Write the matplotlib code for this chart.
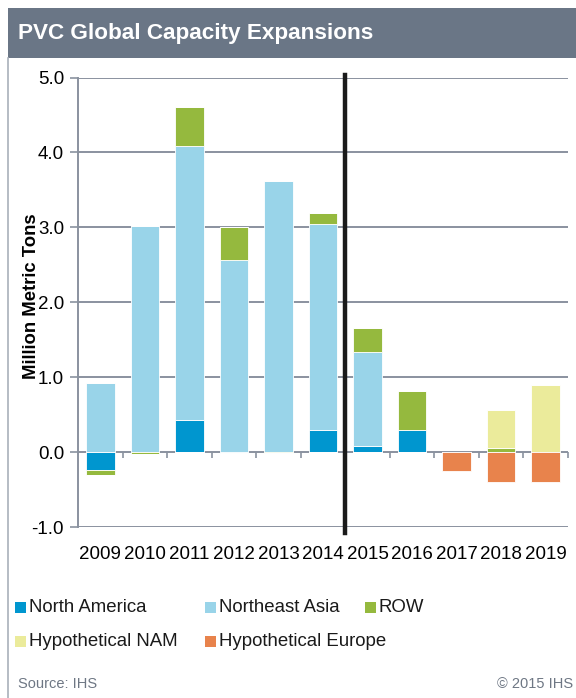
import numpy as np
import matplotlib.pyplot as plt
from matplotlib.patches import Rectangle

plt.rcParams['font.family'] = ['Liberation Sans', 'DejaVu Sans']

# Capacity expansions by region, million metric tons
anios = ['2009', '2010', '2011', '2012', '2013', '2014', '2015', '2016', '2017', '2018', '2019']
north_america = [-0.24, 0.0, 0.43, -0.01, 0.0, 0.29, 0.08, 0.30, 0.0, 0.0, 0.0]
northeast_asia = [0.92, 3.02, 3.65, 2.56, 3.62, 2.75, 1.25, 0.0, 0.0, 0.0, 0.0]
row = [-0.07, -0.02, 0.52, 0.44, -0.01, 0.15, 0.32, 0.52, 0.0, 0.06, 0.0]
hyp_nam = [0.0, 0.0, 0.0, 0.0, 0.0, 0.0, 0.0, 0.0, 0.0, 0.50, 0.90]
hyp_europe = [0.0, 0.0, 0.0, 0.0, 0.0, 0.0, 0.0, 0.0, -0.25, -0.40, -0.40]

series = ['North America', 'Northeast Asia', 'ROW', 'Hypothetical NAM', 'Hypothetical Europe']
valores = [north_america, northeast_asia, row, hyp_nam, hyp_europe]
colores = ['#0096CF', '#99D4E9', '#95B93E', '#EBEB9B', '#E8834C']

fig = plt.figure(figsize=(5.76, 6.98), dpi=100)

# encabezado gris y marco izquierdo
fig.add_artist(Rectangle((8 / 576, 1 - 58 / 698), 1, 50 / 698, transform=fig.transFigure,
                         facecolor='#6A7686', edgecolor='none'))
fig.add_artist(plt.Line2D([8 / 576, 8 / 576], [0, 1 - 58 / 698], transform=fig.transFigure,
                          color='#A9B0BA', lw=1.2))
fig.text(18 / 576, 1 - 34 / 698, 'PVC Global Capacity Expansions', color='white',
         fontsize=16.2, fontweight='bold', va='center', ha='left')

ax = fig.add_axes([78 / 576, 1 - 527 / 698, (568 - 78) / 576, (527 - 77.5) / 698])
x = np.arange(len(anios))
ancho = 0.64

# barras apiladas: positivos hacia arriba, negativos hacia abajo
base_pos = np.zeros(len(anios))
base_neg = np.zeros(len(anios))
for nombre, vals, color in zip(series, valores, colores):
    vals = np.array(vals)
    pos = np.where(vals > 0, vals, 0)
    neg = np.where(vals < 0, vals, 0)
    ax.bar(x, pos, ancho, bottom=base_pos, color=color, edgecolor='white', linewidth=0.6, zorder=3)
    ax.bar(x, neg, ancho, bottom=base_neg, color=color, edgecolor='white', linewidth=0.6, zorder=3)
    base_pos += pos
    base_neg += neg

ax.set_xlim(-0.5, len(anios) - 0.5)
ax.set_ylim(-1.0, 5.0)
ax.set_yticks(np.arange(-1, 5.1, 1))
ax.set_yticklabels([f'{v:.1f}' for v in np.arange(-1, 5.1, 1)])
ax.yaxis.grid(True, color='#8A929F', lw=1.4, zorder=1)
ax.set_axisbelow(True)

for s in ['top', 'right', 'bottom']:
    ax.spines[s].set_visible(False)
ax.spines['left'].set_color('#8A929F')
ax.spines['left'].set_linewidth(1.4)
ax.tick_params(axis='y', length=6, width=1.2, color='#8A929F', labelsize=13.5, pad=4)
ax.tick_params(axis='x', length=0, labelsize=13.5, pad=14)
ax.set_xticks(x)
ax.set_xticklabels(anios)

# marcas de separacion sobre la linea de cero
ax.vlines(x[:-1] + 0.5, -0.075, 0, color='#8A929F', lw=1.2, zorder=2)
ax.vlines(len(anios) - 0.5, -0.075, 0, color='#8A929F', lw=1.2, zorder=2, clip_on=False)

# linea divisoria entre historico y proyectado
ax.axvline(5.5, ymin=-0.013, ymax=1.005, color='#1A1A1A', lw=3.2, zorder=5, clip_on=False)

ax.set_ylabel('Million Metric Tons', fontsize=13.3, fontweight='bold')
ax.yaxis.set_label_coords(-0.078, 0.513)

# leyenda manual en dos filas
pos_leyenda = [(15, 607), (205, 607), (365, 607), (15, 641), (205, 641)]
for (px, py), nombre, color in zip(pos_leyenda, series, colores):
    fig.add_artist(Rectangle((px / 576, 1 - (py + 5.5) / 698), 11 / 576, 11 / 698,
                             transform=fig.transFigure, facecolor=color, edgecolor='none'))
    fig.text((px + 14) / 576, 1 - py / 698, nombre, fontsize=13.4, va='center', ha='left',
             color='#1A1A1A')

fig.text(18 / 576, 1 - 684 / 698, 'Source: IHS', fontsize=10.5, color='#6E7784', va='center')
fig.text(573 / 576, 1 - 684 / 698, '© 2015 IHS', fontsize=10.5, color='#6E7784', va='center', ha='right')

plt.savefig('out.png', dpi=100)
